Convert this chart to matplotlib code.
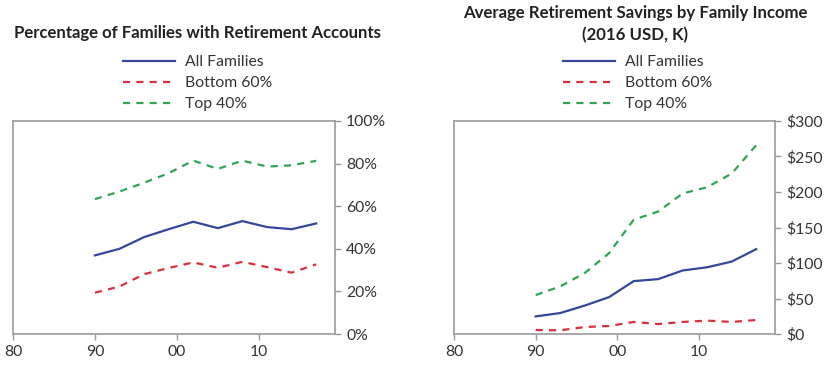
import matplotlib
matplotlib.use("Agg")
import matplotlib.pyplot as plt
from matplotlib.ticker import FuncFormatter

plt.rcParams['font.family'] = ['Lato', 'DejaVu Sans']

# survey years (plotted one year after the survey)
years = [1990, 1993, 1996, 1999, 2002, 2005, 2008, 2011, 2014, 2017]

# share of families with retirement accounts (%)
pct_all = [36.9, 40.0, 45.5, 49.2, 52.7, 49.7, 53.0, 50.2, 49.2, 51.9]
pct_bottom = [19.4, 22.3, 28.1, 31.0, 33.6, 31.1, 33.9, 31.4, 28.8, 32.7]
pct_top = [63.3, 66.9, 71.0, 75.5, 81.4, 77.5, 81.4, 78.6, 79.2, 81.3]

# average retirement savings (2016 USD, thousands)
sav_all = [24.8, 29.5, 40.0, 52.0, 74.5, 77.3, 89.5, 94.0, 102.0, 119.5]
sav_bottom = [5.6, 5.2, 9.8, 11.3, 17.0, 14.0, 17.0, 18.8, 17.0, 19.7]
sav_top = [54.8, 67.0, 85.8, 114.0, 161.0, 172.5, 198.0, 206.7, 226.0, 266.0]

series_labels = ['All Families', 'Bottom 60%', 'Top 40%']
xticks = [1980, 1990, 2000, 2010]
xtick_labels = ['80', '90', '00', '10']

blue = '#34479a'
red = '#d9303f'
green = '#2fa553'
gray = '#9a9a9a'
txt = '#333333'

W, H = 840, 365
fig = plt.figure(figsize=(W / 100, H / 100), dpi=100)


def make_axes(x0, x1):
    ax = fig.add_axes([x0 / W, 1 - 334 / H, (x1 - x0) / W, 213 / H])
    for s in ax.spines.values():
        s.set_color(gray)
        s.set_linewidth(1.2)
    ax.yaxis.tick_right()
    ax.tick_params(axis='both', colors=gray, labelcolor=txt, labelsize=11.3,
                   length=4, width=1, pad=4)
    ax.set_xlim(1980, 2019.3)
    ax.set_xticks(xticks)
    ax.set_xticklabels(xtick_labels)
    return ax


def draw(ax, a, b, t):
    ax.plot(years, a, color=blue, lw=1.6, label=series_labels[0])
    ax.plot(years, b, color=red, lw=1.6, dashes=(3.2, 2.8), label=series_labels[1])
    ax.plot(years, t, color=green, lw=1.6, dashes=(3.2, 2.8), label=series_labels[2])


ax1 = make_axes(13, 335)
draw(ax1, pct_all, pct_bottom, pct_top)
ax1.set_ylim(0, 100)
ax1.set_yticks(range(0, 101, 20))
ax1.yaxis.set_major_formatter(FuncFormatter(lambda v, p: '%d%%' % v))

ax2 = make_axes(454, 775)
draw(ax2, sav_all, sav_bottom, sav_top)
ax2.set_ylim(0, 300)
ax2.set_yticks(range(0, 301, 50))
ax2.yaxis.set_major_formatter(FuncFormatter(lambda v, p: '$%d' % v))

fig.text(197 / W, 1 - 33 / H, 'Percentage of Families with Retirement Accounts',
         ha='center', va='center', fontsize=12.1, fontweight='bold', color='#222222')
fig.text(635 / W, 1 - 24 / H, 'Average Retirement Savings by Family Income\n(2016 USD, K)',
         ha='center', va='center', fontsize=12.1, fontweight='bold', color='#222222',
         linespacing=1.5)

for ax, lx in [(ax1, 123), (ax2, 563)]:
    ax.legend(loc='upper left', bbox_to_anchor=(lx / W, 1 - 55 / H),
              bbox_transform=fig.transFigure, frameon=False, fontsize=11.3,
              handlelength=3.3, handletextpad=0.65, labelspacing=0.45,
              borderpad=0, borderaxespad=0, labelcolor=txt)

fig.savefig('out.png', dpi=100)
